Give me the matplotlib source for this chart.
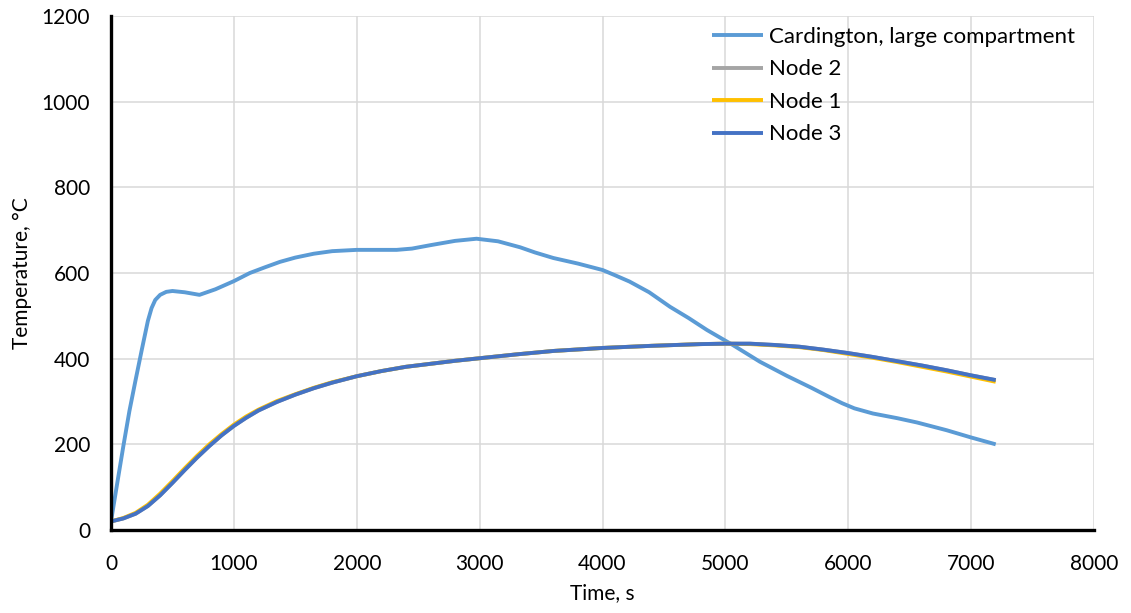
import matplotlib
matplotlib.use("Agg")
import matplotlib.pyplot as plt

plt.rcParams['font.family'] = ['Lato', 'DejaVu Sans']

# Cardington, large compartment (measured gas temperature)
card_t = [0, 50, 100, 150, 200, 250, 300, 330, 360, 400, 450, 500, 600, 720,
          850, 1000, 1130, 1250, 1375, 1500, 1650, 1800, 2000, 2150, 2325,
          2450, 2600, 2800, 2975, 3150, 3330, 3450, 3600, 3800, 4000, 4100,
          4220, 4380, 4550, 4700, 4850, 5060, 5280, 5500, 5700, 5850, 5950,
          6050, 6200, 6400, 6560, 6800, 7000, 7200]
card_T = [20, 108, 195, 278, 350, 420, 488, 518, 537, 549, 556, 558, 555, 549,
          562, 581, 600, 613, 626, 636, 645, 651, 654, 654, 654,
          657, 665, 675, 680, 674, 660, 648, 635, 622, 607, 595,
          580, 555, 521, 495, 467, 432, 393, 360, 332, 310, 296,
          284, 272, 261, 251, 233, 216, 200]

# FE model nodes
node_t = [0, 100, 200, 300, 400, 500, 600, 700, 800, 900, 1000, 1100, 1200,
          1350, 1500, 1650, 1800, 2000, 2200, 2400, 2600, 2800, 3000, 3300,
          3600, 4000, 4400, 4800, 5000, 5200, 5400, 5600, 5800, 6000, 6200,
          6400, 6600, 6800, 7000, 7200]
node3_T = [20, 27, 38, 56, 81, 110, 140, 169, 196, 221, 243, 262, 279,
           299, 316, 331, 344, 359, 371, 381, 388, 395, 401, 410,
           418, 425, 430, 434, 435, 435, 432, 428, 421, 413, 404,
           394, 384, 373, 361, 350]
node1_T = [20, 28, 40, 59, 85, 114, 144, 173, 200, 224, 246, 265, 281,
           301, 317, 332, 345, 359, 371, 381, 388, 395, 401, 410,
           418, 425, 430, 434, 435, 434, 431, 427, 420, 411, 402,
           392, 381, 370, 358, 346]
node2_T = node3_T

fig = plt.figure(figsize=(11.31, 6.13), dpi=100)
ax = fig.add_axes([111 / 1131, 1 - 530 / 613, (1094 - 111) / 1131, (530 - 16) / 613])

lw = 2.8
ax.plot(card_t, card_T, color='#5B9BD5', lw=lw, label='Cardington, large compartment',
        solid_capstyle='butt', solid_joinstyle='round', zorder=3)
ax.plot(node_t, node2_T, color='#A5A5A5', lw=lw, label='Node 2',
        solid_capstyle='butt', solid_joinstyle='round', zorder=3)
ax.plot(node_t, node1_T, color='#FFC000', lw=lw, label='Node 1',
        solid_capstyle='butt', solid_joinstyle='round', zorder=3)
ax.plot(node_t, node3_T, color='#4472C4', lw=lw, label='Node 3',
        solid_capstyle='butt', solid_joinstyle='round', zorder=3)

ax.set_xlim(0, 8000)
ax.set_ylim(0, 1200)
ax.set_xticks(range(0, 8001, 1000))
ax.set_yticks(range(0, 1201, 200))
ax.grid(True, color='#D9D9D9', lw=1.1)
ax.set_axisbelow(True)
ax.tick_params(length=0, labelsize=15)
ax.tick_params(axis='x', pad=17)
ax.tick_params(axis='y', pad=15)

for s in ['top', 'right']:
    ax.spines[s].set_visible(False)
for s in ['left', 'bottom']:
    ax.spines[s].set_linewidth(2.4)
    ax.spines[s].set_color('black')
    ax.spines[s].set_zorder(4)

ax.set_xlabel('Time, s', fontsize=15, labelpad=7)
ax.set_ylabel('Temperature, \u00b0C', fontsize=15, labelpad=7)

leg = ax.legend(loc='upper left', bbox_to_anchor=(712 / 1131, 1 - 27 / 613),
                bbox_transform=fig.transFigure, frameon=False, fontsize=16,
                handlelength=2.3, handletextpad=0.28, borderpad=0, labelspacing=0.56,
                borderaxespad=0)

fig.savefig('out.png', dpi=100)
